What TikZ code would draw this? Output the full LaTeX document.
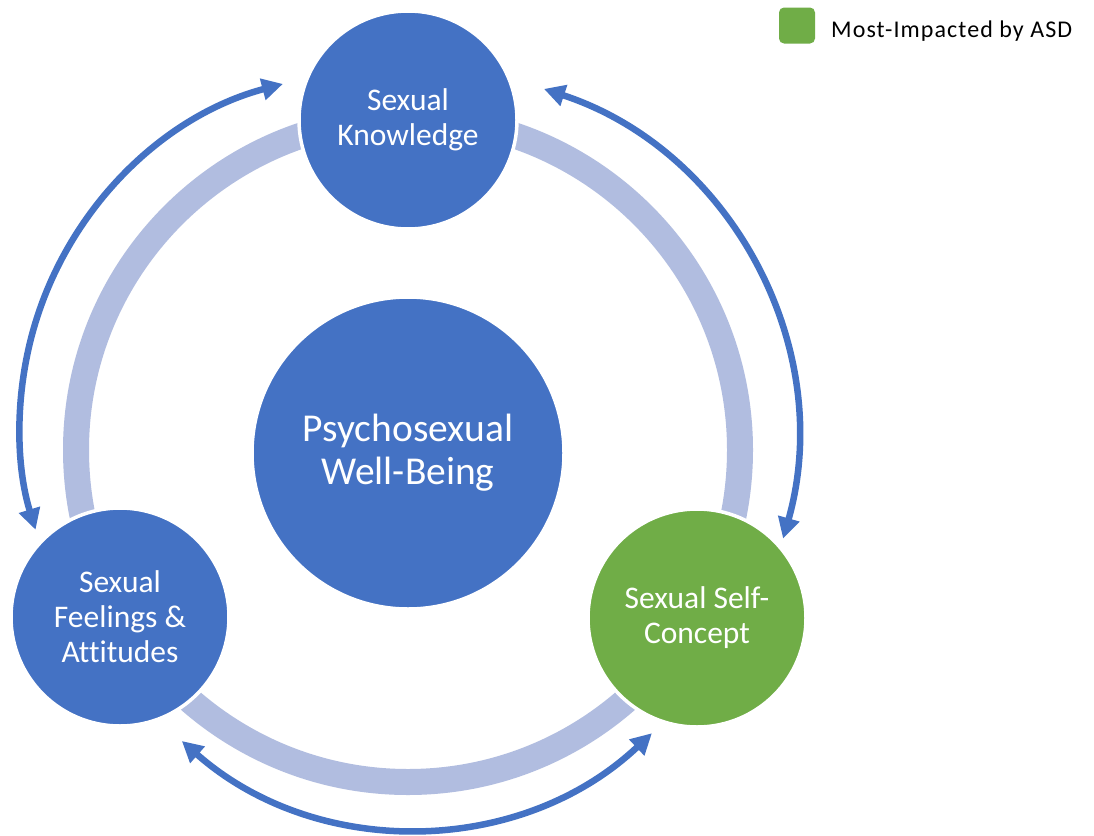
\documentclass[tikz,border=0pt]{standalone}
\usepackage{fontspec}
\setmainfont[Ligatures=NoCommon]{Carlito}
\usetikzlibrary{arrows.meta,calc}
\definecolor{cycleblue}{RGB}{68,114,196}
\definecolor{impactgreen}{RGB}{112,173,71}
\definecolor{ringgrey}{RGB}{177,189,224}

\begin{document}
\begin{tikzpicture}[x=1pt,y=1pt,
  stage/.style={circle, fill=cycleblue, draw=white, line width=3.5pt,
    minimum size=218pt, inner sep=0pt, text=white, align=center,
    font=\fontsize{31.5}{35}\selectfont},
  core/.style={stage, minimum size=312pt, font=\fontsize{39.5}{43}\selectfont},
  cyclearrow/.style={draw=cycleblue, line width=6.5pt,
    {Triangle[length=21pt,width=21pt]}-{Triangle[length=21pt,width=21pt]}},
]
\useasboundingbox (0,0) rectangle (1094,-835);
\fill[white] (0,0) rectangle (1094,-835);

% connecting ring behind the stages
\coordinate (hub) at (408,-450);
\draw[ringgrey, line width=26pt] (hub) circle[radius=332];

% centres of the three outer arrows
\coordinate (leftc) at (374,-426);
\coordinate (rightc) at (429,-438.5);
\coordinate (lowc) at (412.6,-479.2);

% outer two-way arrows between the stages
\draw[cyclearrow] ($(leftc)+(104.9:354)$) arc[start angle=104.9, end angle=197.05, radius=354];
\draw[cyclearrow] ($(rightc)+(71.8:368)$) arc[start angle=71.8, end angle=-15.8, radius=368];
\draw[cyclearrow] ($(lowc)+(228.6:349)$) arc[start angle=228.6, end angle=313.3, radius=349];

% stages
\node[core] (wellbeing) at (408,-453) {Psychosexual\\Well-Being};
\node[stage] (knowledge) at (408,-120) {Sexual\\Knowledge};
\node[stage] (feelings) at (120,-617) {Sexual\\Feelings \&\\Attitudes};
\node[stage, fill=impactgreen] (selfconcept) at (697,-618) {Sexual Self-\\Concept};

% legend
\node[fill=impactgreen, rounded corners=5pt, minimum size=36pt, inner sep=0pt] (key) at (797,-25.5) {};
\node[anchor=base west, inner sep=0pt, font=\fontsize{24}{28}\selectfont\addfontfeatures{LetterSpace=4.5}] (keytext) at (831,-37.5) {Most-Impacted by ASD};
\end{tikzpicture}
\end{document}
